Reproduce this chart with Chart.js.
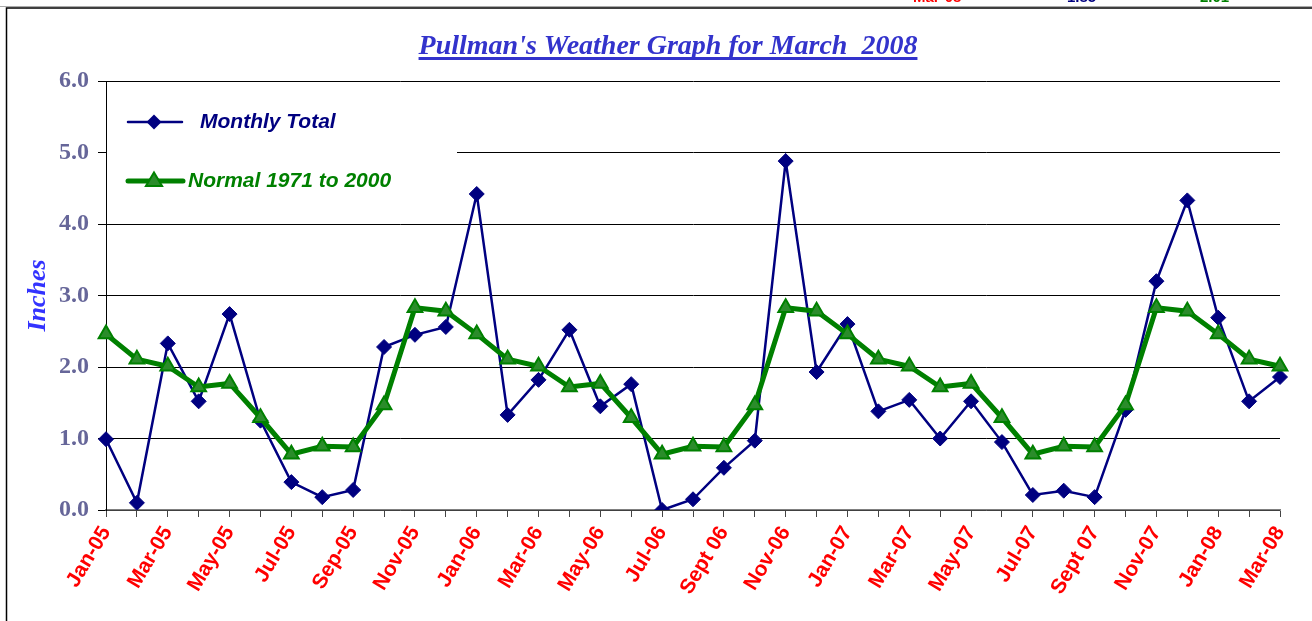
<!DOCTYPE html>
<html lang="en">
<head>
<meta charset="UTF-8">
<title>Pullman's Weather Graph for March 2008</title>
<style>
  html, body { margin: 0; padding: 0; background: #fff; overflow: hidden; }
  canvas { display: block; }
</style>
</head>
<body>
<canvas id="canvas" width="1312" height="621"></canvas>

<script src="https://cdn.jsdelivr.net/npm/chart.js@4"></script>
<script>
// months Jan-05 .. Mar-08 (only every other one gets a visible label)
const months = [
  'Jan-05', 'Feb-05', 'Mar-05', 'Apr-05', 'May-05', 'Jun-05', 'Jul-05', 'Aug-05', 'Sep-05', 'Oct-05', 'Nov-05', 'Dec-05',
  'Jan-06', 'Feb-06', 'Mar-06', 'Apr-06', 'May-06', 'Jun-06', 'Jul-06', 'Aug-06', 'Sept 06', 'Oct-06', 'Nov-06', 'Dec-06',
  'Jan-07', 'Feb-07', 'Mar-07', 'Apr-07', 'May-07', 'Jun-07', 'Jul-07', 'Aug-07', 'Sept 07', 'Oct-07', 'Nov-07', 'Dec-07',
  'Jan-08', 'Feb-08', 'Mar-08'
];

const monthlyTotal = [
  0.99, 0.10, 2.33, 1.52, 2.74, 1.25, 0.39, 0.18, 0.28, 2.28, 2.45, 2.56,
  4.42, 1.33, 1.82, 2.52, 1.45, 1.76, 0.00, 0.15, 0.59, 0.97, 4.88, 1.93,
  2.60, 1.38, 1.54, 1.00, 1.52, 0.95, 0.21, 0.27, 0.18, 1.40, 3.20, 4.33,
  2.69, 1.52, 1.86
];

const normal = [
  2.46, 2.11, 2.01, 1.72, 1.77, 1.29, 0.78, 0.89, 0.88, 1.47, 2.83, 2.78,
  2.46, 2.11, 2.01, 1.72, 1.77, 1.29, 0.78, 0.89, 0.88, 1.47, 2.83, 2.78,
  2.46, 2.11, 2.01, 1.72, 1.77, 1.29, 0.78, 0.89, 0.88, 1.47, 2.83, 2.78,
  2.46, 2.11, 2.01
];

const seriesNames = ['Monthly Total', 'Normal 1971 to 2000'];
const chartTitle = "Pullman's Weather Graph for March  2008";
// header row above the frame, mostly cut off
const headerRow = [['Mar-08', '#ff0000', 913], ['1.85', '#000080', 1067], ['2.01', '#008000', 1200]];

const NAVY = '#000080';
const GREEN = '#008000';
const TRI_FILL = '#2b8c2b';

function drawDiamond(ctx, x, y, r) {
  ctx.beginPath();
  ctx.moveTo(x, y - r); ctx.lineTo(x + r, y); ctx.lineTo(x, y + r); ctx.lineTo(x - r, y);
  ctx.closePath();
  ctx.fillStyle = NAVY; ctx.fill();
}

function drawTriangle(ctx, x, y, r) {
  ctx.beginPath();
  ctx.moveTo(x, y - r); ctx.lineTo(x + r * 0.95, y + r * 0.6); ctx.lineTo(x - r * 0.95, y + r * 0.6);
  ctx.closePath();
  ctx.fillStyle = TRI_FILL; ctx.fill();
  ctx.lineWidth = 2; ctx.strokeStyle = GREEN; ctx.stroke();
}

// legend box sits inside the plot and hides the grid behind it
const insideLegend = {
  id: 'insideLegend',
  beforeDatasetsDraw(chart) {
    const ctx = chart.ctx;
    ctx.save();
    ctx.fillStyle = '#fff';
    ctx.fillRect(107, 90, 350, 118);

    ctx.lineCap = 'round';
    ctx.strokeStyle = NAVY; ctx.lineWidth = 2.5;
    ctx.beginPath(); ctx.moveTo(128, 122); ctx.lineTo(182, 122); ctx.stroke();
    drawDiamond(ctx, 154, 122, 7.5);

    ctx.strokeStyle = GREEN; ctx.lineWidth = 5;
    ctx.beginPath(); ctx.moveTo(128, 181); ctx.lineTo(183, 181); ctx.stroke();
    drawTriangle(ctx, 154, 181, 8.5);

    ctx.font = 'bold italic 21px "Liberation Sans", Arial, sans-serif';
    ctx.textBaseline = 'middle';
    ctx.fillStyle = NAVY;
    ctx.fillText(seriesNames[0], 200, 122);
    ctx.fillStyle = GREEN;
    ctx.fillText(seriesNames[1], 188, 181);
    ctx.restore();
  }
};

// outer frame, underlined title and the clipped header row
const frame = {
  id: 'frame',
  afterDraw(chart) {
    const ctx = chart.ctx;
    ctx.save();
    ctx.font = 'bold 15px "Liberation Sans", Arial, sans-serif';
    ctx.textBaseline = 'alphabetic';
    headerRow.forEach(([t, c, x]) => { ctx.fillStyle = c; ctx.fillText(t, x, 2); });

    ctx.strokeStyle = '#aaa'; ctx.lineWidth = 1;
    ctx.beginPath(); ctx.moveTo(0, 6.5); ctx.lineTo(1312, 6.5); ctx.stroke();
    ctx.strokeStyle = '#000'; ctx.lineWidth = 1.5;
    ctx.beginPath(); ctx.moveTo(1312, 8); ctx.lineTo(6.5, 8); ctx.lineTo(6.5, 621); ctx.stroke();

    ctx.font = 'bold italic 28px "Liberation Serif", "Times New Roman", serif';
    ctx.fillStyle = '#3333cc';
    ctx.textAlign = 'center';
    ctx.textBaseline = 'alphabetic';
    const cx = 668, by = 54;
    ctx.fillText(chartTitle, cx, by);
    const w = ctx.measureText(chartTitle).width;
    ctx.fillRect(cx - w / 2, by + 3, w, 3);
    ctx.restore();
  }
};

new Chart(document.getElementById('canvas').getContext('2d'), {
  type: 'line',
  data: {
    labels: months,
    datasets: [
      {
        label: seriesNames[1],
        data: normal,
        borderColor: GREEN,
        borderWidth: 5,
        tension: 0,
        pointStyle: 'triangle',
        pointRadius: 8.5,
        pointBackgroundColor: TRI_FILL,
        pointBorderColor: GREEN,
        pointBorderWidth: 2
      },
      {
        label: seriesNames[0],
        data: monthlyTotal,
        borderColor: NAVY,
        borderWidth: 2.5,
        tension: 0,
        pointStyle: 'rectRot',
        pointRadius: 7.5,
        pointBackgroundColor: NAVY,
        pointBorderColor: NAVY,
        pointBorderWidth: 1
      }
    ]
  },
  options: {
    responsive: false,
    animation: false,
    layout: { padding: { left: 21, right: 32, top: 81, bottom: 0 } },
    plugins: {
      legend: { display: false },
      tooltip: { enabled: false },
      title: { display: false }
    },
    scales: {
      x: {
        type: 'category',
        offset: false,
        afterFit(scale) { scale.height = 111; },
        grid: { drawOnChartArea: false, drawTicks: true, tickLength: 7, tickColor: '#444', lineWidth: 1 },
        border: { display: true, color: '#808080', width: 1.5 },
        ticks: {
          autoSkip: false,
          minRotation: 59,
          maxRotation: 59,
          padding: 5,
          color: '#ff0000',
          font: { family: '"Liberation Sans", Arial, sans-serif', size: 21, weight: 'bold' },
          callback(value, index) { return index % 2 === 0 ? this.getLabelForValue(value) : ''; }
        }
      },
      y: {
        min: 0,
        max: 6,
        afterFit(scale) { scale.width = 85; },
        grid: { color: '#000', lineWidth: 1, tickLength: 8, tickColor: '#000' },
        border: { display: true, color: '#000', width: 1 },
        title: {
          display: true,
          text: 'Inches',
          color: '#3333ff',
          padding: { top: 2, bottom: 4 },
          font: { family: '"Liberation Serif", "Times New Roman", serif', size: 26, style: 'italic', weight: 'bold' }
        },
        ticks: {
          stepSize: 1,
          padding: 9,
          color: '#666699',
          font: { family: '"Liberation Serif", "Times New Roman", serif', size: 24, weight: 'bold' },
          callback(v) { return v.toFixed(1); }
        }
      }
    }
  },
  plugins: [insideLegend, frame]
});
</script>
</body>
</html>
